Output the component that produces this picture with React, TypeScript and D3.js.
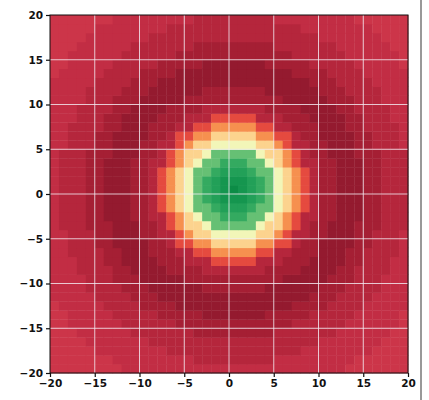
import React, { useEffect, useRef } from "react";
import * as d3 from "d3";

// quarter of the field: row = |y offset|, column = |x offset|
// from the peak cell, one base-36 level per cell (0 = darkest red ring, y = deepest green)
const quadrantRows = [
  "yxvtpjfb7211000112223",
  "xxvtpjfb7211000112223",
  "vvtppjfb7211000112223",
  "ttppjfb72211000112223",
  "pppjffb72110001112223",
  "jjjffb722110001122233",
  "fffbb7721100001122233",
  "bbb772211100011222233",
  "777222111000011222333",
  "222211110000112222333",
  "111111000001112223333",
  "111100000011122223333",
  "000000000111222233333",
  "000000011112222333334",
  "000011111222223333344",
  "111111122222233333344",
  "111112222222333333444",
  "222222222233333334444",
  "222222223333333344444",
  "222223333333334444444",
  "333333333333344444444",
];

const xTicks = [-20, -15, -10, -5, 0, 5, 10, 15, 20];
const yTicks = [-20, -15, -10, -5, 0, 5, 10, 15, 20];

const levelStops = [0, 1, 2, 3, 4, 7, 11, 15, 19, 25, 29, 31, 33, 34];
const colorStops = [
  "#941a2f", "#a51f34", "#b5263c", "#c22d44", "#cc3549", "#e54a3f", "#f6904f",
  "#fcd38e", "#f2f6b8", "#66c074", "#34aa60", "#22a058", "#15964f", "#0c8c46",
];

function App() {
  const ref = useRef(null);

  useEffect(() => {
    const svg = d3.select(ref.current);
    svg.selectAll("*").remove();

    const x = d3.scaleLinear().domain([-20, 20]).range([50, 408]);
    const y = d3.scaleLinear().domain([-20, 20]).range([373, 15]);
    const color = d3
      .scaleLinear<string>()
      .domain(levelStops)
      .range(colorStops)
      .interpolate(d3.interpolateRgb);

    const cells = [];
    for (let ky = -20; ky < 20; ky++) {
      for (let kx = -20; kx < 20; kx++) {
        const ch = quadrantRows[Math.abs(ky)][Math.abs(kx)];
        cells.push({ kx, ky, level: parseInt(ch, 36) });
      }
    }

    svg
      .append("g")
      .selectAll("rect")
      .data(cells)
      .join("rect")
      .attr("x", (d) => x(d.kx))
      .attr("y", (d) => y(d.ky + 1))
      .attr("width", x(1) - x(0) + 0.4)
      .attr("height", y(0) - y(1) + 0.4)
      .attr("fill", (d) => color(d.level));

    // grid
    const grid = svg.append("g").attr("stroke", "#f4eef4").attr("stroke-opacity", 0.8).attr("stroke-width", 1);
    grid
      .selectAll("line.v")
      .data(xTicks.slice(1, -1))
      .join("line")
      .attr("x1", (d) => x(d))
      .attr("x2", (d) => x(d))
      .attr("y1", y(20))
      .attr("y2", y(-20));
    grid
      .selectAll("line.h")
      .data(yTicks.slice(1, -1))
      .join("line")
      .attr("class", "h")
      .attr("y1", (d) => y(d))
      .attr("y2", (d) => y(d))
      .attr("x1", x(-20))
      .attr("x2", x(20));

    // frame
    svg
      .append("rect")
      .attr("x", x(-20))
      .attr("y", y(20))
      .attr("width", x(20) - x(-20))
      .attr("height", y(-20) - y(20))
      .attr("fill", "none")
      .attr("stroke", "#111")
      .attr("stroke-width", 1);

    const xAxis = svg
      .append("g")
      .attr("transform", `translate(0,${y(-20)})`)
      .call(d3.axisBottom(x).tickValues(xTicks).tickSize(4).tickPadding(3).tickFormat(d3.format("d")));
    const yAxis = svg
      .append("g")
      .attr("transform", `translate(${x(-20)},0)`)
      .call(d3.axisLeft(y).tickValues(yTicks).tickSize(4).tickPadding(3).tickFormat(d3.format("d")));

    [xAxis, yAxis].forEach((a) => {
      a.select(".domain").remove();
      a.selectAll("line").attr("stroke", "#111").attr("stroke-width", 1.2);
      a.selectAll("text")
        .attr("fill", "#111")
        .style("font-family", "DejaVu Sans")
        .style("font-size", "10.5px")
        .style("font-weight", "bold");
    });

    // edge of the scanned page
    svg
      .append("line")
      .attr("x1", 421)
      .attr("x2", 421)
      .attr("y1", 0)
      .attr("y2", 400)
      .attr("stroke", "#777")
      .attr("stroke-width", 1.5);
  }, []);

  return (
    <svg
      ref={ref}
      width={429}
      height={400}
      style={{ position: "absolute", left: 0, top: 0, background: "#fff" }}
    />
  );
}

export default App;
